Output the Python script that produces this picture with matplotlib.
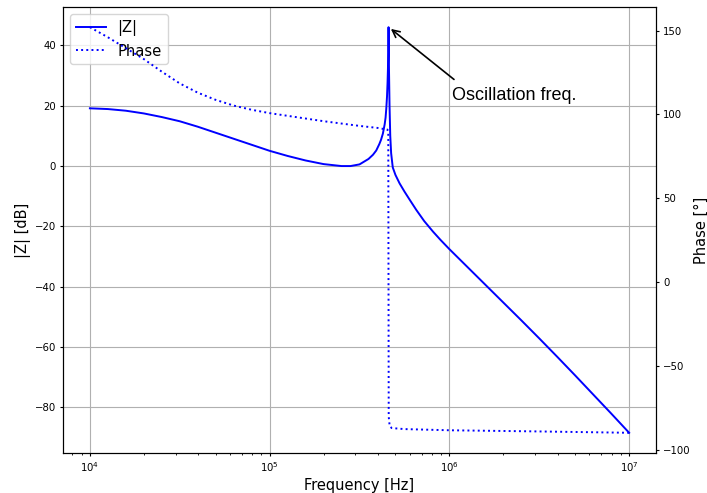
import numpy as np
import matplotlib.pyplot as plt

# impedance magnitude along the sweep (log10 of frequency in Hz, dB)
logf_mag = [4.0, 4.1, 4.2, 4.3, 4.4, 4.5, 4.6, 4.7, 4.8, 4.9, 5.0,
            5.1, 5.2, 5.3, 5.4, 5.45, 5.5, 5.525, 5.55, 5.575, 5.593, 5.61, 5.62,
            5.63, 5.64, 5.645, 5.649, 5.653, 5.656, 5.658, 5.66, 5.6615,
            5.664, 5.667, 5.671, 5.676, 5.685, 5.70, 5.723, 5.75, 5.78, 5.816,
            5.86, 5.909, 5.95, 6.0, 6.1, 6.2, 6.3, 6.4, 6.5, 6.6, 6.7, 6.8, 6.9, 7.0]
mag_db = [19.1, 18.85, 18.3, 17.4, 16.2, 14.8, 13.0, 11.0, 9.0, 7.0, 5.0,
          3.3, 1.8, 0.6, -0.05, -0.05, 0.5, 1.4, 2.3, 3.7, 5.1, 7.2, 8.7,
          10.7, 13.8, 16.0, 19.0, 23.0, 27.5, 31.7, 37.5, 46.0,
          32.0, 20.0, 10.0, 4.2, -0.5, -3.0, -5.8, -8.5, -11.3, -14.6,
          -18.3, -21.8, -24.5, -27.6, -33.5, -39.4, -45.3, -51.2, -57.2, -63.3,
          -69.5, -75.8, -82.1, -88.5]

# phase along the sweep (log10 of frequency in Hz, degrees)
logf_ph = [4.0, 4.1, 4.2, 4.3, 4.4, 4.5, 4.6, 4.7, 4.8, 4.9, 5.0,
           5.1, 5.2, 5.3, 5.4, 5.5, 5.6, 5.655, 5.66, 5.6625, 5.668,
           5.68, 5.75, 6.0, 6.5, 7.0]
phase_deg = [152.0, 146.0, 139.5, 133.0, 125.5, 118.5, 113.0, 108.7, 105.3, 102.8, 100.8,
             99.2, 97.6, 96.0, 94.6, 93.2, 92.0, 91.0, 90.0, -80.0, -85.8,
             -86.8, -87.4, -88.1, -88.8, -89.6]

freq_mag = 10 ** np.array(logf_mag)
freq_ph = 10 ** np.array(logf_ph)

plt.rcParams['xtick.major.size'] = 2.5
plt.rcParams['ytick.major.size'] = 2.5
plt.rcParams['xtick.minor.size'] = 1.4
plt.rcParams['xtick.major.pad'] = 2.5
plt.rcParams['ytick.major.pad'] = 2.5
plt.rcParams['axes.labelpad'] = 2.8

fig = plt.figure(figsize=(7.07, 4.93), dpi=100)
ax = fig.add_axes([0.089, 0.081, 0.839, 0.905])
ax2 = ax.twinx()

l1, = ax.semilogx(freq_mag, mag_db, color='b', lw=1.4, label='|Z|')
l2, = ax2.semilogx(freq_ph, phase_deg, color='b', lw=1.4, ls=':', label='Phase')

ax.grid(True, color='#b0b0b0', lw=0.8)
ax.set_xlabel('Frequency [Hz]', fontsize=10.5)
ax.set_ylabel('|Z| [dB]', fontsize=10.5)
ax2.set_ylabel('Phase [°]', fontsize=10.5, labelpad=2.0)
ax.tick_params(labelsize=7.3)
ax2.tick_params(labelsize=7.3)

ax.legend(handles=[l1, l2], loc='upper left', fontsize=10.6)

ax.annotate('Oscillation freq.', xy=(10 ** 5.6625, 46.0), xytext=(1.03e6, 22.0),
            fontsize=13, family='Liberation Sans',
            arrowprops=dict(arrowstyle='->', color='black', lw=1.2,
                            relpos=(0.09, 1.0), shrinkA=5, shrinkB=2))

fig.savefig('out.png', dpi=100)
